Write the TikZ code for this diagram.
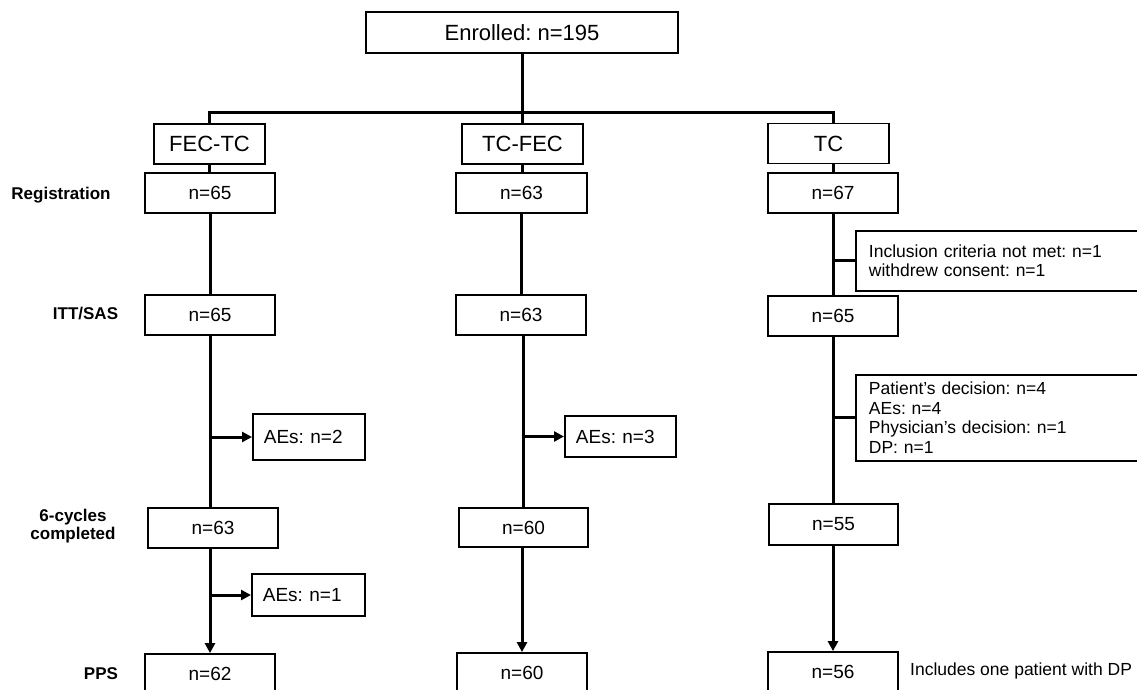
\documentclass[tikz,border=0pt]{standalone}
\usepackage{fontspec}
\setmainfont{Liberation Sans}
\usetikzlibrary{arrows.meta}
\frenchspacing
\begin{document}
\begin{tikzpicture}[x=1pt,y=-1pt,
  box/.style={draw, line width=1.8pt, inner sep=0pt, minimum height=40pt, font=\fontsize{19}{22}\selectfont},
  hbox/.style={box, font=\fontsize{22}{26}\selectfont},
  aebox/.style={draw, line width=1.8pt, anchor=west, inner xsep=11pt, inner ysep=0pt, align=left, font=\fontsize{19}{22}\selectfont},
  side/.style={draw, line width=1.8pt, anchor=north west, inner xsep=13pt, inner ysep=0pt, align=left, text width=300pt, font=\fontsize{17.5}{19.5}\selectfont},
  lab/.style={font=\bfseries\fontsize{17}{18.5}\selectfont, align=center, inner sep=0pt},
  conn/.style={line width=3pt},
  arr/.style={conn, -{Triangle[length=10pt,width=10pt]}},
]
\fill[white] (0,0) rectangle (1137,690);
\useasboundingbox (0,0) rectangle (1137,690);
\clip (0,0) rectangle (1137,690);

% top
\node[hbox, minimum width=312pt, minimum height=41pt] (enr) at (522,32.5) {Enrolled: n=195};
\node[hbox, minimum width=111pt] (h1) at (209.5,144) {FEC-TC};
\node[hbox, minimum width=121pt] (h2) at (522.5,144) {TC-FEC};
\node[hbox, minimum width=121pt] (h3) at (828.5,143.5) {TC};

% registration
\node[box, minimum width=130pt] (r1) at (210,193) {n=65};
\node[box, minimum width=131pt] (r2) at (521.5,193) {n=63};
\node[box, minimum width=130pt] (r3) at (833,193) {n=67};

% ITT/SAS
\node[box, minimum width=130pt] (i1) at (210,315) {n=65};
\node[box, minimum width=130pt] (i2) at (521,315) {n=63};
\node[box, minimum width=130pt] (i3) at (833,316) {n=65};

% 6 cycles
\node[box, minimum width=130pt] (c1) at (213,528) {n=63};
\node[box, minimum width=129pt, minimum height=39pt] (c2) at (523.5,527.5) {n=60};
\node[box, minimum width=129pt, minimum height=41pt] (c3) at (833.5,524.5) {n=55};

% PPS
\node[box, minimum width=130pt] (p1) at (210,674) {n=62};
\node[box, minimum width=130pt] (p2) at (522,673) {n=60};
\node[box, minimum width=130pt] (p3) at (833,672) {n=56};

% AEs boxes
\node[aebox, text width=90pt, minimum height=46pt] (a1) at (252,437) {AEs: n=2};
\node[aebox, text width=89pt, minimum height=41pt] (a2) at (564,436.5) {AEs: n=3};
\node[aebox, text width=91pt, minimum height=42pt] (a3) at (251,595) {AEs: n=1};

% TC side boxes
\node[side, minimum height=60pt] (ex1) at (855,230) {Inclusion criteria not met: n=1\\withdrew consent: n=1};
\node[side, minimum height=86pt] (ex2) at (855,374) {Patient's decision: n=4\\AEs: n=4\\Physician's decision: n=1\\DP: n=1};

\node[anchor=west, inner sep=0pt, font=\fontsize{17.5}{21}\selectfont] (note) at (910,671) {Includes one patient with DP};

% row labels
\node[lab, anchor=base] (lreg) at (61,199) {Registration};
\node[lab, anchor=base] (litt) at (85.5,319) {ITT/SAS};
\node[lab] (lcyc) at (73,526) {6-cycles\\completed};
\node[lab, anchor=base] (lpps) at (101,679) {PPS};

% connectors
\coordinate (split) at (522,113);
\draw[conn] (enr.south) -- (split);
\draw[conn] (h1.north) |- (split) -| (r3.north |- h3.north);
\draw[conn] (split) -- (split |- h2.north);

\draw[conn] (h1.south) -- (h1.south |- r1.north);
\draw[conn] (h2.south) -- (h2.south |- r2.north);
\draw[conn] (r3.north |- h3.south) -- (r3.north);

\draw[conn] (r1.south) -- (i1.north);
\draw[conn] (r2.south) -- (r2.south |- i2.north);
\draw[conn] (r3.south) -- (i3.north);

\draw[conn] (i1.south) -- (i1.south |- c1.north);
\draw[conn] (i2.south -| c2.north) -- (c2.north);
\draw[conn] (i3.south) -- (i3.south |- c3.north);

\draw[arr] (c1.south -| p1.north) -- (p1.north);
\draw[arr] (c2.south -| p2.north) -- (p2.north);
\draw[arr] (c3.south -| p3.north) -- (p3.north);

\draw[arr] (i1.south |- a1.west) -- (a1.west);
\draw[arr] (c2.north |- a2.west) -- (a2.west);
\draw[arr] (p1.north |- a3.west) -- (a3.west);

\draw[conn] (r3.south |- ex1.west) -- (ex1.west);
\draw[conn] (i3.south |- ex2.west) -- (ex2.west);
\end{tikzpicture}
\end{document}
